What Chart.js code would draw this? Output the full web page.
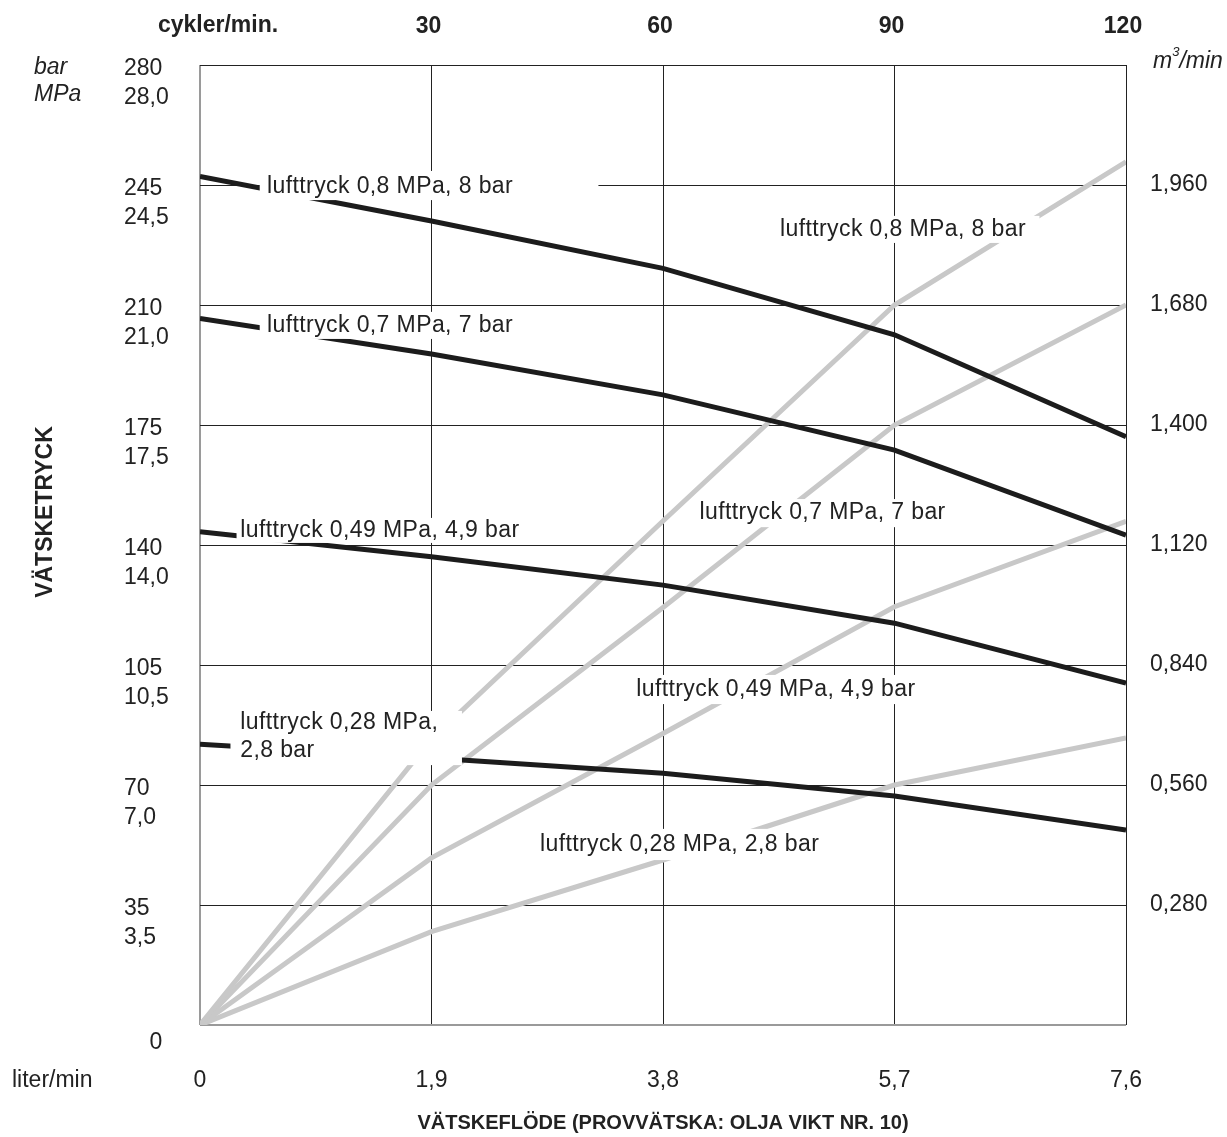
<!DOCTYPE html>
<html>
<head>
<meta charset="utf-8">
<script src="https://cdn.jsdelivr.net/npm/chart.js@4.4.1/dist/chart.umd.min.js"></script>
<style>
  html, body { margin: 0; padding: 0; background: #fff; }
  canvas { display: block; }
</style>
</head>
<body>
<canvas id="chart" width="1227" height="1137"></canvas>
<script>
// liquid flow, liter/min
const flow = [0, 1.9, 3.8, 5.7, 7.6];

// liquid pressure (bar) at each air pressure
const pressure08 = [247.5, 234.5, 220.7, 201.3, 171.6];
const pressure07 = [206.1, 195.7, 183.8, 167.7, 142.9];
const pressure049 = [143.9, 136.6, 128.3, 117.2, 99.7];
const pressure028 = [81.9, 77.9, 73.4, 66.8, 56.9];

// air consumption (m3/min) at each air pressure
const air08 = [0, 0.667, 1.176, 1.680, 2.014];
const air07 = [0, 0.560, 0.974, 1.400, 1.680];
const air049 = [0, 0.390, 0.680, 0.976, 1.175];
const air028 = [0, 0.218, 0.385, 0.560, 0.670];

// tick values
const flowTicks = [0, 1.9, 3.8, 5.7, 7.6];
const cycleTicks = [30, 60, 90, 120];
const barTicks = [0, 35, 70, 105, 140, 175, 210, 245, 280];
const airTicks = [0.28, 0.56, 0.84, 1.12, 1.40, 1.68, 1.96];

const FONT = '"Liberation Sans", Arial, Helvetica, sans-serif';
const INK = '#222';
const BLACK = '#1c1c1c';
const GREY = '#c8c8c8';

const comma = (v, d) => v.toFixed(d).replace('.', ',');
const pts = ys => flow.map((x, i) => ({ x, y: ys[i] }));

// text on the curves, white box behind (x in liter/min, y in bar)
const curveLabels = [
  { lines: ['lufttryck 0,8 MPa, 8 bar'], at: [0.55, 244.4], box: [0.49, 3.27, 249.1, 240.6] },
  { lines: ['lufttryck 0,7 MPa, 7 bar'], at: [0.55, 203.9], box: [0.49, 2.63, 208.0, 200.1] },
  { lines: ['lufttryck 0,49 MPa, 4,9 bar'], at: [0.33, 144.1], box: [0.30, 2.71, 147.9, 140.6] },
  { lines: ['lufttryck 0,28 MPa,', '2,8 bar'], at: [0.33, 88.1], box: [0.25, 2.15, 91.6, 75.8] },
  { lines: ['lufttryck 0,8 MPa, 8 bar'], at: [4.76, 231.9], box: [4.72, 6.89, 236.0, 228.1] },
  { lines: ['lufttryck 0,7 MPa, 7 bar'], at: [4.10, 149.3], box: [4.06, 6.11, 153.4, 145.2] },
  { lines: ['lufttryck 0,49 MPa, 4,9 bar'], at: [3.58, 97.7], box: [3.53, 5.87, 102.1, 93.6] },
  { lines: ['lufttryck 0,28 MPa, 2,8 bar'], at: [2.79, 52.5], box: [2.73, 5.09, 57.2, 48.1] }
];

const labelPlugin = {
  id: 'curveLabels',
  afterDatasetsDraw(chart) {
    const { ctx, scales: { x, y } } = chart;
    ctx.save();
    ctx.font = '23px ' + FONT;
    ctx.letterSpacing = '0.4px';
    ctx.textAlign = 'left';
    ctx.textBaseline = 'middle';
    curveLabels.forEach(l => {
      const x0 = x.getPixelForValue(l.box[0]);
      const x1 = x.getPixelForValue(l.box[1]);
      const y0 = y.getPixelForValue(l.box[2]);
      const y1 = y.getPixelForValue(l.box[3]);
      ctx.fillStyle = '#fff';
      ctx.fillRect(x0, y0, x1 - x0, y1 - y0);
      ctx.fillStyle = INK;
      const tx = x.getPixelForValue(l.at[0]);
      const ty = y.getPixelForValue(l.at[1]);
      l.lines.forEach((t, i) => ctx.fillText(t, tx, ty + i * 28));
    });
    ctx.restore();
  }
};

const outerText = {
  id: 'outerText',
  afterDraw(chart) {
    const { ctx } = chart;
    ctx.save();
    ctx.fillStyle = INK;
    ctx.textBaseline = 'middle';

    ctx.textAlign = 'center';
    ctx.font = 'bold 23px ' + FONT;
    ctx.fillText('cykler/min.', 218, 26);

    ctx.textAlign = 'left';
    ctx.font = 'italic 23px ' + FONT;
    ctx.fillText('bar', 34, 68);
    ctx.fillText('MPa', 34, 95);

    // m3/min with raised 3
    let mx = 1153;
    ctx.fillText('m', mx, 62);
    mx += ctx.measureText('m').width;
    ctx.font = 'italic 13px ' + FONT;
    ctx.fillText('3', mx, 52);
    mx += ctx.measureText('3').width;
    ctx.font = 'italic 23px ' + FONT;
    ctx.fillText('/min', mx, 62);

    ctx.font = '23px ' + FONT;
    ctx.fillText('liter/min', 12, 1081);

    ctx.translate(46, 512);
    ctx.rotate(-Math.PI / 2);
    ctx.textAlign = 'center';
    ctx.font = 'bold 23px ' + FONT;
    ctx.fillText('VÄTSKETRYCK', 0, 0);
    ctx.restore();
  }
};

const line = (ys, color, yAxisID) => ({
  data: pts(ys),
  xAxisID: 'x',
  yAxisID,
  borderColor: color,
  borderWidth: 5,
  pointRadius: 0,
  tension: 0,
  fill: false,
  borderCapStyle: 'butt'
});

const edgeColor = ctx => (ctx.tick && ctx.tick.value === 0 ? '#9a9a9a' : INK);
const edgeWidth = ctx => (ctx.tick && ctx.tick.value === 0 ? 2 : 1);

new Chart(document.getElementById('chart'), {
  type: 'line',
  data: {
    datasets: [
      line(pressure08, BLACK, 'y'),
      line(pressure07, BLACK, 'y'),
      line(pressure049, BLACK, 'y'),
      line(pressure028, BLACK, 'y'),
      line(air08, GREY, 'y2'),
      line(air07, GREY, 'y2'),
      line(air049, GREY, 'y2'),
      line(air028, GREY, 'y2')
    ]
  },
  options: {
    responsive: false,
    animation: false,
    devicePixelRatio: 1,
    layout: { padding: { left: 124 } },
    plugins: { legend: { display: false }, tooltip: { enabled: false } },
    scales: {
      x: {
        type: 'linear', position: 'bottom', min: 0, max: 7.6,
        afterBuildTicks: s => { s.ticks = flowTicks.map(v => ({ value: v })); },
        afterFit: s => { s.height = 112; },
        ticks: {
          callback: v => (v === 0 ? '0' : comma(v, 1)),
          font: { family: FONT, size: 23 }, color: INK, padding: 42,
          maxRotation: 0, autoSkip: false
        },
        grid: { color: edgeColor, lineWidth: edgeWidth, drawTicks: false },
        border: { display: false },
        title: {
          display: true, text: 'VÄTSKEFLÖDE (PROVVÄTSKA: OLJA VIKT NR. 10)',
          font: { family: FONT, size: 20, weight: 'bold' }, color: INK,
          padding: { top: 0, bottom: 2 }
        }
      },
      x2: {
        type: 'linear', position: 'top', min: 0, max: 120,
        afterBuildTicks: s => { s.ticks = cycleTicks.map(v => ({ value: v })); },
        afterFit: s => { s.height = 65; },
        ticks: {
          font: { family: FONT, size: 23, weight: 'bold' }, color: INK, padding: 25,
          labelOffset: -3, maxRotation: 0, autoSkip: false
        },
        grid: { display: false, drawTicks: false },
        border: { display: false }
      },
      y: {
        type: 'linear', position: 'left', min: 0, max: 280,
        afterBuildTicks: s => { s.ticks = barTicks.map(v => ({ value: v })); },
        afterFit: s => { s.width = 76; },
        ticks: {
          callback: v => (v === 0 ? '    0' : [String(v), comma(v / 10, 1)]),
          crossAlign: 'far', labelOffset: 18, padding: 0,
          font: { family: FONT, size: 23, lineHeight: 1.24 }, color: INK
        },
        grid: { color: edgeColor, lineWidth: edgeWidth, drawTicks: false },
        border: { display: false }
      },
      y2: {
        type: 'linear', position: 'right', min: 0, max: 2.24,
        afterBuildTicks: s => { s.ticks = airTicks.map(v => ({ value: v })); },
        afterFit: s => { s.width = 101; },
        ticks: {
          callback: v => comma(v, 3), padding: 24,
          font: { family: FONT, size: 23 }, color: INK
        },
        grid: { display: false, drawTicks: false },
        border: { display: false }
      }
    }
  },
  plugins: [labelPlugin, outerText]
});
</script>
</body>
</html>
